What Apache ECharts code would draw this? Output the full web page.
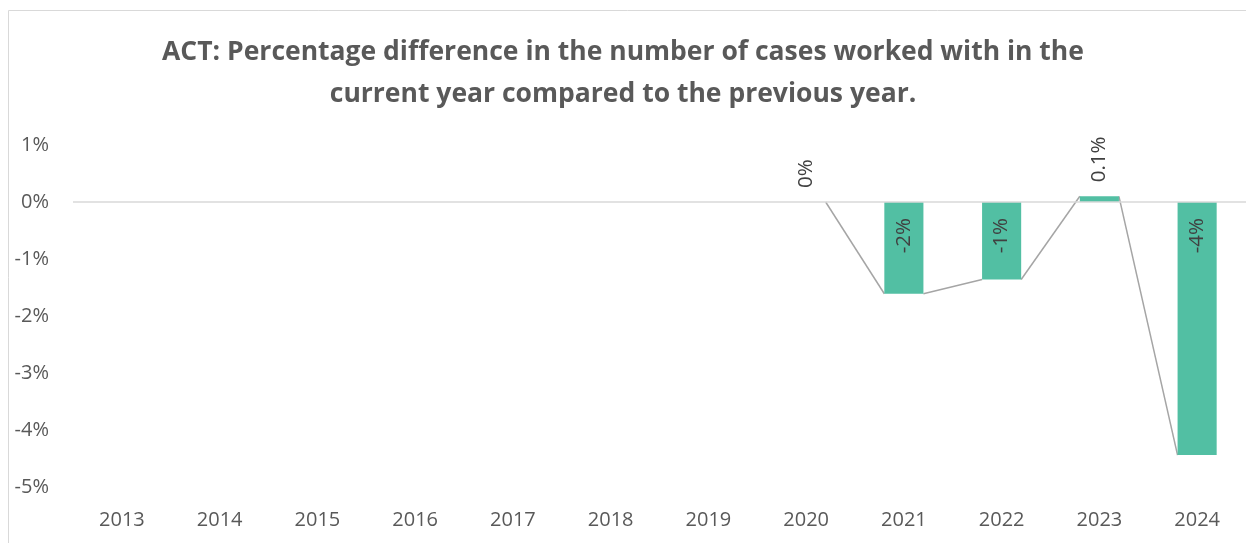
<!DOCTYPE html>
<html>
<head>
<meta charset="UTF-8">
<title>ACT cases</title>
<script src="https://cdn.jsdelivr.net/npm/echarts@6/dist/echarts.min.js"></script>
<style>
    body { margin: 0; padding: 0; background: #fff; }
    #main { width: 1246px; height: 543px; }
</style>
</head>
<body>
<div id="main"></div>
<script type="text/javascript">
    // data (percent)
    var years = ['2013', '2014', '2015', '2016', '2017', '2018', '2019', '2020', '2021', '2022', '2023', '2024'];
    var diffs = [null, null, null, null, null, null, null, 0, -1.61, -1.36, 0.1, -4.44];
    var yTicks = { min: -5, max: 1, step: 1 };

    var myChart = echarts.init(document.getElementById('main'));

    function fmt(v) {
        var r = Math.round(v);
        if (r === 0 && v !== 0) return v.toFixed(1) + '%';
        return (r === 0 ? 0 : r) + '%';
    }

    // bar items, label inside near zero for negatives, above for others
    var barData = diffs.map(function (v) {
        if (v === null) return null;
        return {
            value: v,
            label: v < 0
                ? { position: 'insideTop', align: 'right', verticalAlign: 'middle', distance: 16 }
                : { position: 'top', align: 'left', verticalAlign: 'middle', distance: 14 }
        };
    });

    // connector segments: right edge of bar i -> left edge of bar i+1
    var links = [];
    for (var i = 0; i < diffs.length - 1; i++) {
        if (diffs[i] !== null && diffs[i + 1] !== null) links.push([i, diffs[i], diffs[i + 1]]);
    }

    var option = {
        animation: false,
        textStyle: { fontFamily: 'Open Sans' },
        title: {
            text: 'ACT: Percentage difference in the number of cases worked with in the\ncurrent year compared to the previous year.',
            left: 'center',
            top: 26,
            textStyle: { fontSize: 26.5, fontWeight: 'bold', color: '#595959', lineHeight: 42, fontFamily: 'Open Sans', align: 'center' }
        },
        graphic: [{
            type: 'rect',
            shape: { x: 8.5, y: 10.5, width: 1260, height: 560 },
            style: { fill: 'none', stroke: '#d9d9d9', lineWidth: 1 },
            silent: true
        }],
        grid: { left: 73, top: 145, width: 1176, height: 342, containLabel: false },
        xAxis: {
            type: 'category',
            data: years,
            axisLine: { show: false, onZero: false },
            axisTick: { show: false },
            axisLabel: { color: '#595959', fontSize: 20, margin: 23 }
        },
        yAxis: {
            type: 'value',
            min: yTicks.min,
            max: yTicks.max,
            interval: yTicks.step,
            axisLine: { show: false },
            axisTick: { show: false },
            splitLine: { show: false },
            axisLabel: { color: '#595959', fontSize: 20, margin: 24, formatter: '{value}%' }
        },
        series: [{
            type: 'custom',
            z: 1,
            silent: true,
            data: links,
            encode: { x: 0, y: 1 },
            renderItem: function (params, api) {
                var idx = api.value(0);
                var p0 = api.coord([idx, api.value(1)]);
                var p1 = api.coord([idx + 1, api.value(2)]);
                var hw = api.size([1, 0])[0] * 0.2;
                return {
                    type: 'line',
                    shape: { x1: p0[0] + hw, y1: p0[1], x2: p1[0] - hw, y2: p1[1] },
                    style: { stroke: '#a5a5a5', lineWidth: 1.5 }
                };
            }
        }, {
            type: 'bar',
            z: 3,
            data: barData,
            barWidth: '40%',
            itemStyle: { color: '#52bfa3' },
            label: {
                show: true,
                rotate: 90,
                fontSize: 20.5,
                color: '#404040',
                formatter: function (p) { return fmt(p.value); }
            },
            markLine: {
                silent: true,
                symbol: 'none',
                label: { show: false },
                lineStyle: { color: '#d9d9d9', type: 'solid', width: 1.5 },
                data: [{ yAxis: 0 }]
            }
        }]
    };
    myChart.setOption(option);
</script>
</body>
</html>
